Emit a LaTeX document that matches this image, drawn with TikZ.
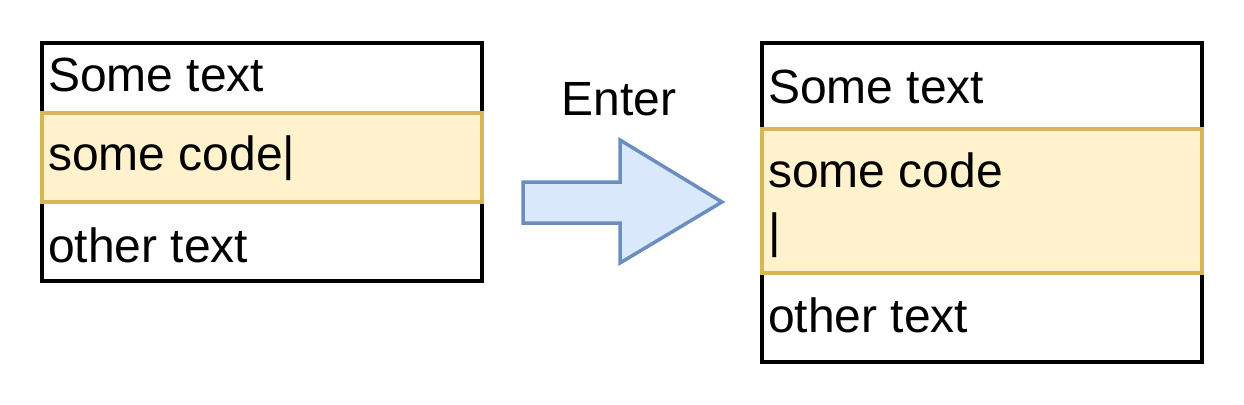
\documentclass[tikz,border=0pt]{standalone}
\usepackage{fontspec}
\setmainfont{Liberation Sans}
\usetikzlibrary{positioning}
\definecolor{codefill}{HTML}{FFF2CC}
\definecolor{codeline}{HTML}{D6B656}
\definecolor{keyfill}{HTML}{DAE8FC}
\definecolor{keyline}{HTML}{6C8EBF}

\begin{document}
\begin{tikzpicture}[x=1pt, y=-1pt, line width=3.5pt,
    box/.style={draw=black, fill=white, rectangle, inner sep=0pt, outer sep=0pt,
      minimum width=440pt, anchor=north west},
    codeband/.style={draw=codeline, fill=codefill, rectangle, inner sep=0pt, outer sep=0pt,
      minimum width=440pt, anchor=north west},
    label/.style={inner sep=0pt, outer sep=0pt, anchor=base west,
      font=\fontsize{48}{57}\selectfont}]
    \useasboundingbox (0,0) rectangle (1244,404);

    % Before
    \node[box, minimum height=238pt] (before) at (42,43) {};
    \node[codeband, minimum height=89pt] (bcode) at (42,113) {};
    \node[label] (btop) at (48,92) {Some text};
    \node[label] (bline) at (48,170) {some code|};
    \node[label] (bbottom) at (48,262) {other text};

    % Key press
    \node[label, anchor=base] (key) at (619,115) {Enter};
    \draw[draw=keyline, fill=keyfill] (523,182) -- (620,182) -- (620,140) -- (722,202)
      -- (620,263) -- (620,223) -- (523,223) -- cycle;

    % After
    \node[box, minimum height=319pt] (after) at (762,43) {};
    \node[codeband, minimum height=144pt] (acode) at (762,129) {};
    \node[label] (atop) at (768,103) {Some text};
    \node[label] (aline) at (768,187) {some code};
    \node[label] (acursor) at (768,247) {|};
    \node[label] (abottom) at (768,332) {other text};
\end{tikzpicture}
\end{document}
